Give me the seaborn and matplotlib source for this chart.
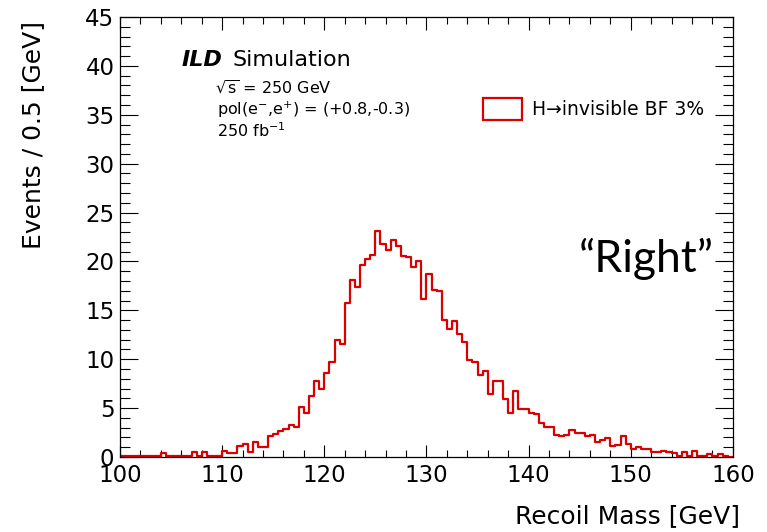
import numpy as np
import pandas as pd
import matplotlib
matplotlib.use('Agg')
import matplotlib.pyplot as plt
from matplotlib.patches import Patch
from matplotlib.ticker import MultipleLocator
import seaborn as sns

# Recoil mass histogram, 0.5 GeV bins from 100 to 160 GeV
bin_lo = 100.0
bin_hi = 160.0
bin_width = 0.5
counts = [
    0.1, 0.1, 0.05, 0.05, 0.05, 0.1, 0.15, 0.15, 0.45, 0.05,
    0.05, 0.05, 0.05, 0.1, 0.55, 0.05, 0.5, 0.05, 0.1, 0.1,
    0.65, 0.4, 0.4, 1.1, 1.3, 0.5, 1.5, 1.0, 1.0, 2.1,
    2.4, 2.65, 2.85, 3.3, 3.05, 5.1, 4.55, 6.2, 7.8, 7.0,
    8.55, 9.75, 11.95, 11.55, 15.7, 18.1, 17.35, 19.6, 20.2, 20.7,
    23.1, 21.8, 21.2, 22.2, 21.6, 20.6, 20.5, 19.45, 20.0, 16.2,
    18.75, 17.05, 16.95, 14.0, 13.05, 13.95, 12.55, 11.75, 9.9, 9.7,
    8.4, 8.75, 6.4, 7.75, 7.8, 5.9, 4.45, 6.7, 4.95, 4.9,
    4.45, 4.4, 3.5, 3.05, 3.05, 2.2, 2.15, 2.3, 2.75, 2.5,
    2.5, 2.1, 2.3, 1.5, 1.75, 1.9, 1.15, 1.25, 2.1, 1.35,
    0.8, 1.05, 0.85, 0.85, 0.55, 0.55, 0.65, 0.55, 0.45, 0.15,
    0.5, 0.15, 0.65, 0.15, 0.15, 0.3, 0.1, 0.35, 0.1, 0.0,
]
x_ticks = [100, 110, 120, 130, 140, 150, 160]
y_ticks = [0, 5, 10, 15, 20, 25, 30, 35, 40, 45]
legend_label = 'H\u2192invisible BF 3%'
red = '#dc0000'

n_bins = len(counts)
centers = bin_lo + bin_width * (np.arange(n_bins) + 0.5)
df = pd.DataFrame({'mass': centers, 'events': counts})

sns.set_style('ticks')
plt.rcParams['font.family'] = ['DejaVu Sans']
plt.rcParams['text.color'] = 'black'
plt.rcParams['axes.labelcolor'] = 'black'

fig = plt.figure(figsize=(7.67, 5.32), dpi=100)
ax = fig.add_axes([0.1565, 0.141, 0.799, 0.827])

sns.histplot(data=df, x='mass', weights='events', bins=n_bins,
             binrange=(bin_lo, bin_hi), element='step', fill=False,
             color=red, linewidth=1.6, ax=ax)

ax.set_xlim(bin_lo, bin_hi)
ax.set_ylim(0, 45)
ax.set_xticks(x_ticks)
ax.set_yticks(y_ticks)
ax.xaxis.set_minor_locator(MultipleLocator(2))
ax.yaxis.set_minor_locator(MultipleLocator(1))
ax.tick_params(which='both', direction='in', top=True, right=True, width=0.8,
               colors='black', labelsize=16.5)
ax.tick_params(axis='x', which='major', length=9, pad=5)
ax.tick_params(axis='x', which='minor', length=5)
ax.tick_params(axis='y', which='major', length=13, pad=4)
ax.tick_params(axis='y', which='minor', length=7)
for s in ax.spines.values():
    s.set_linewidth(0.9)
    s.set_color('black')

ax.set_xlabel('Recoil Mass [GeV]', fontsize=18, loc='right')
ax.set_ylabel('Events / 0.5 [GeV]', fontsize=18, loc='top')
ax.xaxis.set_label_coords(1.012, -0.107)
ax.yaxis.set_label_coords(-0.123, 0.99)

# ILD label
fig.text(182 / 767, 1 - 66 / 532, 'ILD', fontsize=16, fontweight='bold',
         fontstyle='italic', va='baseline')
fig.text(233 / 767, 1 - 66 / 532, 'Simulation', fontsize=16, va='baseline')
fig.text(215 / 767, 1 - 94 / 532, r'$\sqrt{\mathrm{s}}$ = 250 GeV', fontsize=11.5, va='baseline')
fig.text(217 / 767, 1 - 115 / 532, r'pol(e$^{-}$,e$^{+}$) = (+0.8,-0.3)', fontsize=11.5, va='baseline')
fig.text(217 / 767, 1 - 137 / 532, r'250 fb$^{-1}$', fontsize=11.5, va='baseline')

handle = Patch(facecolor='white', edgecolor=red, linewidth=1.6)
ax.legend(handles=[handle], labels=[legend_label], loc='center left',
          bbox_to_anchor=(0.592, 0.791), frameon=False, fontsize=13.5,
          handlelength=2.1, handleheight=1.5, handletextpad=0.5,
          borderpad=0, borderaxespad=0)

fig.text(646 / 767, 1 - 272 / 532, '\u201cRight\u201d', fontsize=32,
         family=['Lato', 'DejaVu Sans'], ha='center', va='baseline')

fig.savefig('out.png', dpi=100)
